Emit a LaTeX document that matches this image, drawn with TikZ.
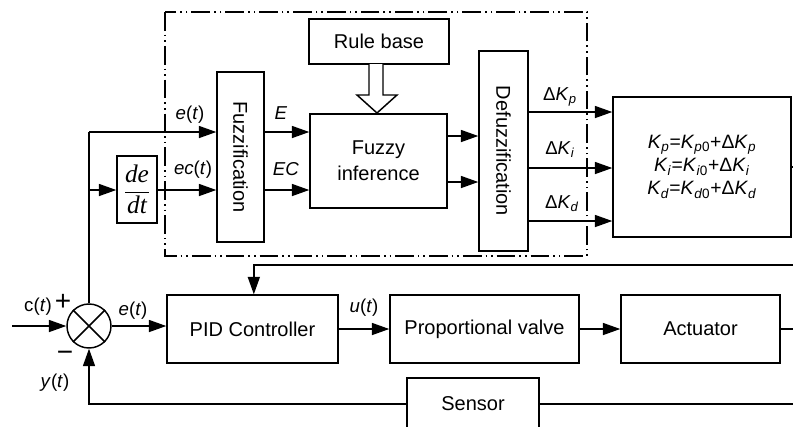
\documentclass[tikz,border=0pt]{standalone}
\usepackage{amsmath}
\usepackage{fontspec}
\setmainfont{Liberation Sans}
\newfontfamily\tnr{Liberation Serif}
\usetikzlibrary{arrows.meta}
\begin{document}
\begin{tikzpicture}[x=0.75pt,y=-0.75pt,
  every node/.style={font=\fontsize{15}{18}\selectfont},
  blk/.style={draw, line width=1.1pt, inner sep=0pt},
  conn/.style={line width=1.1pt},
  arr/.style={conn, -{Triangle[length=13pt,width=9pt]}},
  lbl/.style={inner sep=0pt, font=\fontsize{14}{16}\selectfont},
  dashdotbox/.style={line width=1.1pt, dash pattern=on 14pt off 3pt on 1.2pt off 3pt on 1.2pt off 3pt}
]
\useasboundingbox (0,0) rectangle (793,426);
\clip (0,0) rectangle (793,426);

% fuzzy controller frame
\draw[dashdotbox] (165,12) rectangle (587,256);

% blocks
\node[blk, minimum width=105pt, minimum height=33.75pt] (rule) at (379,41.5) {Rule base};
\node[blk, minimum width=102.75pt, minimum height=70.5pt, align=center, font=\fontsize{15}{19.5}\selectfont] (fuzzy) at (378.5,161) {Fuzzy\\inference};
\node[blk, minimum width=35.25pt, minimum height=127.5pt] (fuzzif) at (240.5,157) {};
\node[rotate=-90] (fuzzift) at (fuzzif) {Fuzzification};
\node[blk, minimum width=36.75pt, minimum height=150pt] (defuzz) at (503.5,151) {};
\node[rotate=-90] (defuzzt) at (defuzz) {Defuzzification};
\node[blk, minimum width=30pt, minimum height=50.25pt] (dedt) at (137,189.5) {};
\node (dedtt) at (dedt) {\tnr\fontsize{19}{22}\selectfont$\dfrac{\textit{de}}{\textit{dt}}$};
\node[blk, minimum width=133.5pt, minimum height=105pt, align=center, font=\fontsize{14.5}{17.25}\selectfont] (kbox) at (702,167)
  {\textit{K}\textsubscript{\textit{p}}=\textit{K}\textsubscript{\textit{p}0}+Δ\textit{K}\textsubscript{\textit{p}}\\
   \textit{K}\textsubscript{\textit{i}}=\textit{K}\textsubscript{\textit{i}0}+Δ\textit{K}\textsubscript{\textit{i}}\\
   \textit{K}\textsubscript{\textit{d}}=\textit{K}\textsubscript{\textit{d}0}+Δ\textit{K}\textsubscript{\textit{d}}};

\node[draw, circle, line width=1.1pt, minimum size=33pt, inner sep=0pt] (sum) at (89,326) {};
\draw[conn] (sum.north east) -- (sum.south west) (sum.north west) -- (sum.south east);
\node[blk, minimum width=128.25pt, minimum height=51pt] (pid) at (252.5,329) {PID Controller};
\node[blk, minimum width=141.75pt, minimum height=51pt] (pv) at (484.5,329) {Proportional valve};
\node[blk, minimum width=119.25pt, minimum height=51pt] (act) at (700.5,329) {Actuator};
% sensor box runs past the lower edge of the picture
\node[blk, minimum width=99pt, minimum height=48pt] (sensor) at (473,410) {};
\node (sensort) at (473,404) {Sensor};

% hollow arrow rule base -> inference
\draw[conn, fill=white] (369,64) -- (369,95) -- (357,95) -- (377,113) -- (397,95) -- (383,95) -- (383,64);

% coordinates
\coordinate (br1) at (89,132);
\coordinate (br2) at (89,190);
\coordinate (in) at (12,326);
\coordinate (outtop) at (793,265);
\coordinate (outmid) at (793,329);
\coordinate (outbot) at (793,404);

% connectors
\draw[conn] (sum.north) -- (br1);
\draw[arr] (br1) -- (br1 -| fuzzif.west);
\draw[arr] (br2) -- (br2 -| dedt.west);
\draw[arr] (br2 -| dedt.east) -- (br2 -| fuzzif.west);
\draw[arr] (br1 -| fuzzif.east) -- (br1 -| fuzzy.west);
\draw[arr] (br2 -| fuzzif.east) -- (br2 -| fuzzy.west);
\draw[arr] ([yshift=18.75pt]fuzzy.east) -- ([yshift=18.75pt]fuzzy.east -| defuzz.west);
\draw[arr] ([yshift=-15.75pt]fuzzy.east) -- ([yshift=-15.75pt]fuzzy.east -| defuzz.west);
\draw[arr] ([yshift=41.25pt]kbox.west -| defuzz.east) -- ([yshift=41.25pt]kbox.west);
\draw[arr] ([yshift=-0.75pt]kbox.west -| defuzz.east) -- ([yshift=-0.75pt]kbox.west);
\draw[arr] ([yshift=-40.5pt]kbox.west -| defuzz.east) -- ([yshift=-40.5pt]kbox.west);
\draw[conn] (kbox.east) -- (kbox.east -| outtop);

\draw[arr] (in) -- (sum.west);
\draw[arr] (sum.east) -- (sum.east -| pid.west);
\draw[arr] (pid.east) -- (pv.west);
\draw[arr] (pv.east) -- (act.west);
\draw[conn] (act.east) -- (outmid);
\draw[arr] (outtop) -| ([xshift=1pt]pid.north);
\draw[conn] (outbot) -- (outbot -| sensor.east);
\draw[arr] (outbot -| sensor.west) -| (sum.south);

% labels
\node[lbl] (le) at (190,115) {\textit{e}(\textit{t})};
\node[lbl] (lec) at (193,170) {\textit{ec}(\textit{t})};
\node[lbl] (lE) at (281,113) {\textit{E}};
\node[lbl] (lEC) at (286,169) {\textit{EC}};
\node[lbl] (ldkp) at (560,97) {Δ\textit{K}\textsubscript{\textit{p}}};
\node[lbl] (ldki) at (560,150) {Δ\textit{K}\textsubscript{\textit{i}}};
\node[lbl] (ldkd) at (562,204) {Δ\textit{K}\textsubscript{\textit{d}}};
\node[lbl] (lc) at (38,307) {c(\textit{t})};
\node[lbl, font=\fontsize{21}{21}\selectfont] (lplus) at (63,302) {+};
\node[lbl, font=\fontsize{21}{21}\selectfont] (lminus) at (65,356) {−};
\node[lbl] (ly) at (55,383) {\textit{y}(\textit{t})};
\node[lbl] (le2) at (133,311) {\textit{e}(\textit{t})};
\node[lbl] (lu) at (364,308) {\textit{u}(\textit{t})};
\end{tikzpicture}
\end{document}
